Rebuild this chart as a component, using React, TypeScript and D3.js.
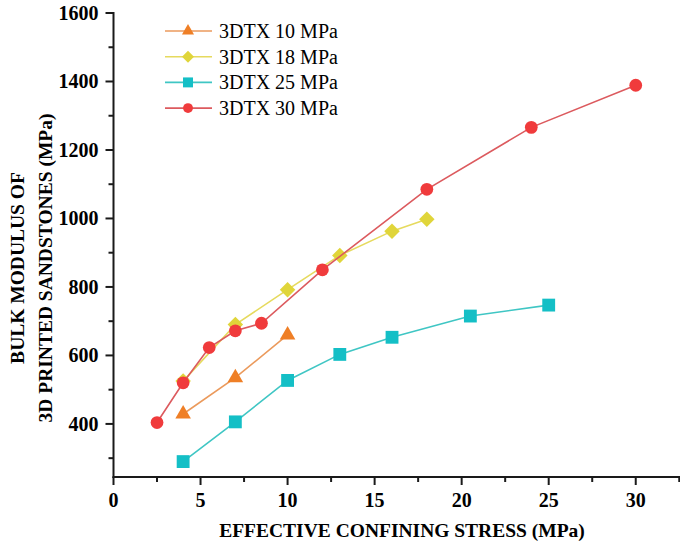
import React, { useEffect, useRef } from 'react';
import * as d3 from 'd3';

// effective confining stress (MPa) per specimen and measured bulk modulus (MPa)
const seriesNames = ['3DTX 10 MPa', '3DTX 18 MPa', '3DTX 25 MPa', '3DTX 30 MPa'];

const stress10 = [4, 7, 10];
const bulk10 = [429, 535, 660];

const stress18 = [4, 7, 10, 13, 16, 18];
const bulk18 = [525, 690, 792, 892, 963, 998];

const stress25 = [4, 7, 10, 13, 16, 20.5, 25];
const bulk25 = [290, 406, 527, 603, 653, 715, 747];

const stress30 = [2.5, 4, 5.5, 7, 8.5, 12, 18, 24, 30];
const bulk30 = [404, 520, 623, 672, 694, 850, 1085, 1266, 1389];

const xTicks = [0, 5, 10, 15, 20, 25, 30];
const yTicks = [400, 600, 800, 1000, 1200, 1400, 1600];

const markerFill = ['#ef7f26', '#e0d53a', '#14bfc6', '#f03b3c'];
const lineColor = ['#eb9a5c', '#e6da5e', '#3fc6c4', '#dc5a5e'];
const markerType = ['triangle', 'diamond', 'square', 'circle'];

const W = 680, H = 543;
const FONT = '"Liberation Serif", "Times New Roman", serif';

function App() {
  const ref = useRef<SVGSVGElement>(null);

  useEffect(() => {
    const svg = d3.select(ref.current);
    svg.selectAll('*').remove();

    const x = d3.scaleLinear().domain([0, 32.6]).range([113.5, 681]);
    const y = d3.scaleLinear().domain([245, 1600]).range([477, 13]);

    const data = [
      stress10.map((s, i) => ({ s, b: bulk10[i] })),
      stress18.map((s, i) => ({ s, b: bulk18[i] })),
      stress25.map((s, i) => ({ s, b: bulk25[i] })),
      stress30.map((s, i) => ({ s, b: bulk30[i] })),
    ];

    const symbolPath = (type: string, big: boolean) => {
      const k = big ? 1 : 0.6;
      if (type === 'triangle') return d3.symbol(d3.symbolTriangle, 105 * k)();
      if (type === 'square') return d3.symbol(d3.symbolSquare, 165 * k)();
      if (type === 'diamond') return d3.symbol(d3.symbolSquare, 120 * k)();
      return d3.symbol(d3.symbolCircle, 128 * k)();
    };

    // axes
    const axisColor = '#1a1a1a';
    const xAxis = svg.append('g').attr('transform', 'translate(0,477)');
    xAxis.append('line').attr('x1', x(0) - 1).attr('x2', W).attr('stroke', axisColor).attr('stroke-width', 2);
    d3.range(0, 33, 2.5).forEach(v => {
      const major = v % 5 === 0;
      xAxis.append('line')
        .attr('x1', x(v)).attr('x2', x(v))
        .attr('y1', 0).attr('y2', major ? 8 : 5)
        .attr('stroke', axisColor).attr('stroke-width', 2);
    });
    xAxis.selectAll('text.tick').data(xTicks).enter().append('text')
      .attr('x', d => x(d)).attr('y', 30)
      .attr('text-anchor', 'middle')
      .attr('font-family', FONT).attr('font-weight', 'bold').attr('font-size', 20)
      .text(d => d);

    const yAxis = svg.append('g').attr('transform', `translate(${x(0)},0)`);
    yAxis.append('line').attr('y1', y(1600) - 1).attr('y2', 478).attr('stroke', axisColor).attr('stroke-width', 2);
    d3.range(300, 1601, 100).forEach(v => {
      const major = v % 200 === 0;
      yAxis.append('line')
        .attr('y1', y(v)).attr('y2', y(v))
        .attr('x1', 0).attr('x2', major ? -8 : -5)
        .attr('stroke', axisColor).attr('stroke-width', 2);
    });
    yAxis.selectAll('text.tick').data(yTicks).enter().append('text')
      .attr('x', -15).attr('y', d => y(d))
      .attr('dy', '0.35em')
      .attr('text-anchor', 'end')
      .attr('font-family', FONT).attr('font-weight', 'bold').attr('font-size', 20)
      .text(d => d);

    // axis titles
    svg.append('text')
      .attr('x', 402).attr('y', 537)
      .attr('text-anchor', 'middle')
      .attr('font-family', FONT).attr('font-weight', 'bold').attr('font-size', 19.5)
      .text('EFFECTIVE CONFINING STRESS (MPa)');

    const yTitle = svg.append('g').attr('transform', 'translate(0,268) rotate(-90)');
    yTitle.append('text')
      .attr('x', 0).attr('y', 24)
      .attr('text-anchor', 'middle')
      .attr('font-family', FONT).attr('font-weight', 'bold').attr('font-size', 19.5)
      .text('BULK MODULUS OF');
    yTitle.append('text')
      .attr('x', 0).attr('y', 52)
      .attr('text-anchor', 'middle')
      .attr('font-family', FONT).attr('font-weight', 'bold').attr('font-size', 19.5)
      .text('3D PRINTED SANDSTONES (MPa)');

    // series
    const line = d3.line<{ s: number; b: number }>().x(d => x(d.s)).y(d => y(d.b));
    data.forEach((pts, i) => {
      const g = svg.append('g');
      g.append('path')
        .attr('d', line(pts))
        .attr('fill', 'none')
        .attr('stroke', lineColor[i])
        .attr('stroke-width', 1.6);
      g.selectAll('path.mark').data(pts).enter().append('path')
        .attr('d', symbolPath(markerType[i], true))
        .attr('transform', d => `translate(${x(d.s)},${y(d.b)})` + (markerType[i] === 'diamond' ? ' rotate(45)' : ''))
        .attr('fill', markerFill[i]);
    });

    // legend
    const legend = svg.append('g');
    seriesNames.forEach((name, i) => {
      const ly = 31 + i * 25.7;
      legend.append('line')
        .attr('x1', 165).attr('x2', 212).attr('y1', ly).attr('y2', ly)
        .attr('stroke', lineColor[i]).attr('stroke-width', 1.6);
      legend.append('path')
        .attr('d', symbolPath(markerType[i], false))
        .attr('transform', `translate(188,${ly})` + (markerType[i] === 'diamond' ? ' rotate(45)' : ''))
        .attr('fill', markerFill[i]);
      legend.append('text')
        .attr('x', 219).attr('y', ly).attr('dy', '0.35em')
        .attr('font-family', FONT).attr('font-size', 20)
        .text(name);
    });
  }, []);

  return (
    <svg ref={ref} width={W} height={H}
      style={{ position: 'absolute', left: 0, top: 0, background: '#fff' }} />
  );
}

export default App;
